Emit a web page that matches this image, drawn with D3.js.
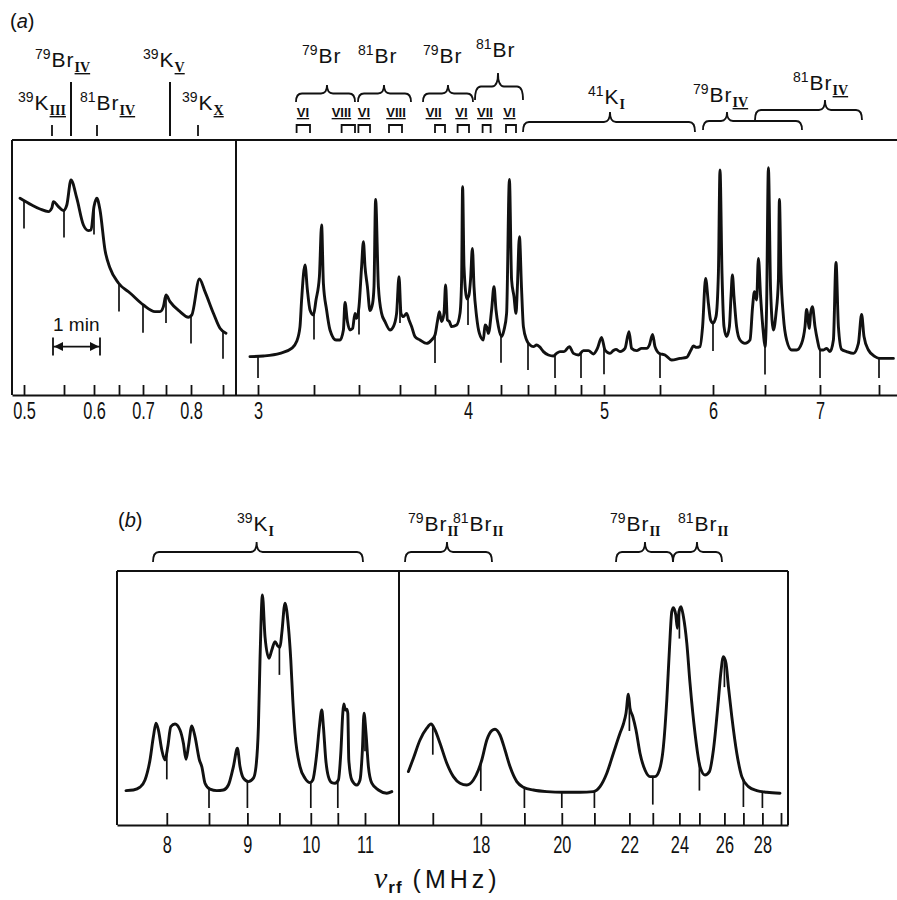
<!DOCTYPE html>
<html><head><meta charset="utf-8">
<script src="https://cdn.jsdelivr.net/npm/d3@7"></script>
<style>
body{margin:0;background:#fff;}
svg{display:block;}
text{font-family:"Liberation Sans",Arial,Helvetica,sans-serif;fill:#111;}
</style></head><body>
<svg id="chart" width="897" height="900"></svg>
<script>
// ---------- DATA (x: chart-paper position in mm, y: recorder signal in mm) ----------
// Panel (a), low-frequency part (0.5-0.85 MHz)
const traceALeft = [[4,98.4],[9.9,95],[14,93],[18.2,91.7],[19.9,93.5],[20.7,96.7],[23.2,94.2],[25.7,92.2],[27.4,95],[29.5,107.5],[32.4,98.4],[35.7,85],[38.2,82.2],[39.5,82.5],[41,94.2],[42.4,98.4],[44,92.5],[46.5,72.5],[49,63.5],[53.2,56],[59,51],[65.7,45],[71.5,41.7],[74,41.7],[75.7,44.2],[77,50],[79,46.7],[84,41.7],[88.2,38.9],[89.9,40],[93.7,58],[96.5,51.7],[100.7,40.9],[104,33.4],[107,30.9]];
// Panel (a), 3-7.5 MHz part
const traceARight = [[119,19.2],[125.7,19.5],[134,20.8],[139.8,23.3],[142.3,26.7],[144,34.2],[144.8,47.5],[146.5,65],[147.7,52.5],[149,42.5],[150.7,40],[152,47.5],[153.7,59.2],[154.8,85],[155.7,55.8],[157.3,42.5],[159,32.5],[162,27.5],[164,27.5],[165.7,32.5],[166.5,46.3],[167.7,36.7],[169,32.5],[170.3,33.3],[171.5,40.8],[172.3,38.3],[173.5,44.2],[174.8,64.2],[175.7,76.7],[176.5,64.2],[177.7,54.2],[179,42.2],[180.3,45.8],[181,54.2],[181.8,97.8],[183.2,54.2],[184.8,40.8],[186.5,36.7],[189,32.5],[190.7,34.2],[192.3,40.8],[193.5,59.2],[194.5,40.8],[195.7,39.2],[197.3,40.8],[198.5,37.5],[199.8,34.2],[201.5,29.2],[204,27.5],[207.3,25.8],[209.8,27.5],[211.5,30],[212.7,36.7],[213.7,41.7],[214.8,36.7],[216,40.8],[216.8,55],[217.7,37.5],[218.7,36.7],[219.8,34.2],[222.3,35],[224,40.8],[224.8,57.5],[225.3,104.2],[226,64.2],[227.5,48],[228.5,50],[229.3,58],[230.2,73.3],[231,54.2],[232.3,39.2],[233.7,30.8],[235.7,27.5],[236.5,35],[237.3,34.2],[238.2,30.8],[239.8,42.5],[241,54.2],[242,42.5],[243.2,34.2],[244.8,29.2],[246,32.5],[247.3,40.8],[248.7,107.8],[249.8,57.5],[251,49.2],[252,40.8],[252.7,54.2],[253.7,79.2],[254.8,52.5],[255.7,34.2],[257.3,27.5],[259,25],[260.7,24.2],[262.3,25],[263.7,24.2],[265.7,21.7],[268.2,20],[270.7,19.5],[272.3,20.8],[274,21.7],[276,21.7],[278.7,24.2],[280.7,20.8],[283.2,20],[285.7,22.2],[288.2,22.2],[290.7,20.5],[292.7,23.3],[294.8,28.8],[296.5,22.5],[299,20.8],[300.7,22.2],[302,22.8],[304,21.7],[306.5,23.3],[308.5,31.7],[309.8,23.3],[312.3,22.2],[314.8,23.3],[317.3,23.3],[318.7,25],[320.3,30.3],[321.5,24.2],[323.7,20.8],[326.5,20],[329.8,17.5],[334,18.3],[337.3,18.8],[339.5,22.5],[340.7,24.5],[342.3,23.8],[344,24.2],[345.3,34.2],[346.8,58.3],[348.2,45.8],[349.3,37.5],[350.5,36],[352,39.2],[353.2,60.8],[354,112.5],[355,60.8],[356,34.2],[357.3,29.2],[358.7,34.2],[359.5,49.2],[360.2,60],[361,49.2],[362.3,34.2],[364,27.5],[366.5,25.8],[369,27.5],[370.3,44.2],[371.2,51.7],[372.3,47.5],[373.2,68.3],[374.3,49.2],[375.7,30.8],[376.5,24.2],[377.3,44.2],[378.2,113.7],[379.3,52.5],[380.7,32.5],[382,40.8],[383.2,57.5],[383.7,97.8],[384.5,60.8],[385.7,39.2],[387.3,27.5],[389.8,22.5],[392.3,22.5],[394.8,25.8],[396.5,34.2],[397.3,42.8],[398.7,33.3],[399.3,40.8],[400.2,44.2],[401.5,34.2],[402.7,27.5],[404,22.5],[405.7,22.5],[407.3,23.3],[409,21.7],[410.7,27.5],[412,66.3],[413.2,34.2],[414.8,22.8],[417.3,21.7],[420.7,20.8],[423.2,25.8],[424.8,40.3],[426,29.2],[428.2,22.5],[431.5,19.2],[434,18.3],[440.7,18.3]];
// Panel (b), 7.5-11.5 MHz part
const traceBLeft = [[4.5,17.2],[8.2,17.5],[11.5,18.9],[14,22.5],[16.5,32.5],[18.2,44.2],[19.5,50.9],[20.7,47.5],[22.4,37.5],[24,32.5],[25.4,39.2],[26.9,49.2],[29,50.5],[31.5,47.5],[33.2,40.9],[34.5,32.9],[35.7,39.2],[37.4,49.5],[39,44.2],[41.2,32.5],[42.4,29.2],[44,20.9],[46.5,17.9],[49.9,17.2],[53.2,17.5],[55.7,20],[58.2,29.2],[60.2,38.4],[61.5,29.2],[63.2,23.4],[65.7,21.7],[68.2,23.4],[69.5,29.2],[70.7,49.2],[71.5,82.5],[72.7,115],[74,94.2],[76,83.4],[77.4,87.5],[79,91.7],[80.4,89.5],[81.5,88.9],[82.4,95.9],[84,110.9],[85.7,99.2],[86.9,82.5],[87.9,62.5],[89,45.9],[91.5,29.2],[94,23.4],[96.5,21.2],[97.9,22.5],[99.9,35.9],[101.2,49.2],[102.4,57.5],[103.2,49.2],[104.4,32.5],[105.7,24.2],[107.4,21.2],[109,20.9],[110.7,22.5],[111.9,35.9],[112.9,55.9],[113.4,60.5],[114.2,57.5],[114.9,57.9],[115.4,55.9],[115.9,32.5],[117.4,22.5],[119.9,20],[121.5,22.5],[122.7,37.5],[123.5,55.9],[124.5,45.9],[125.7,29.2],[127.4,20.9],[130.7,17.5],[134.9,15.9],[137.4,16.7]];
// Panel (b), 16-29 MHz part
const traceBRight = [[145.7,26.7],[148.2,33.4],[151.5,42.5],[154.9,48.4],[157,50.5],[159,47.5],[161.5,40.9],[164.9,30.9],[168.2,24.2],[171.5,20.9],[174.9,20],[178.2,22.5],[180.7,27.5],[182.4,32.5],[184.9,42.5],[187.4,47.2],[189,47.9],[191.5,45],[194,37.5],[196.5,29.2],[199.9,21.7],[203.2,18.9],[208.2,17.5],[214.9,16.7],[223.2,16.4],[231.5,16.4],[238.2,16.7],[241.5,19.2],[244.9,25.9],[248.2,35.9],[251.5,45.9],[253.2,50.5],[254.5,55.9],[255.7,65.4],[256.5,58.4],[257.9,54.2],[259.5,47.5],[261.5,35.9],[264,27.5],[266.5,24.2],[269,24.2],[271.2,27.5],[273.2,39.2],[274.9,62.5],[276.2,87.5],[277.4,106.7],[278.2,108.7],[279.4,105],[280.2,98.4],[281,106.7],[282,109.2],[283.2,104.2],[284.9,90.9],[286.5,70.9],[289,45.9],[291.5,29.2],[294,25],[296.2,26.7],[298.2,37.5],[300.7,62.5],[301.9,75.9],[303.2,84.2],[304.5,80.9],[305.7,69.2],[307.4,54.2],[309.9,35.9],[312.4,24.2],[315.7,19.2],[319.9,17.2],[324.9,16.4],[331.5,15.9]];

// Frequency markers (chart position in mm, frequency in MHz, printed label)
const markA_mm = [6,26,41,53.5,65.5,77,89.5,105.5,123,151,173.5,194,211.5,228,244.5,258,271.5,284.5,296,324,350.5,376.5,404,433.5];
const markA_freq = [0.5,0.55,0.6,0.65,0.7,0.75,0.8,0.85,3.0,3.2,3.4,3.6,3.8,4.0,4.2,4.4,4.6,4.8,5.0,5.5,6.0,6.5,7.0,7.5];
const markA_label = ["0.5","","0.6","","0.7","","0.8","","3","","","","","4","","","","","5","","6","","7",""];
const markB_mm = [24.9,46,65.2,81.2,96.9,110.4,124,157.9,181.9,203.7,222.4,238.7,256.2,267.9,281.2,291.2,303.7,313.2,322.7,332];
const markB_freq = [8,8.5,9,9.5,10,10.5,11,17,18,19,20,21,22,23,24,25,26,27,28,29];
const markB_label = ["8","","9","","10","","11","","18","","20","","22","","24","","26","","28",""];

// Line assignments, panel (a)
const labelsA = [
  {iso:"79",el:"Br",sub:"IV",x:11.5,tier:"hi"},
  {iso:"39",el:"K",sub:"V",x:65.5,tier:"hi"},
  {iso:"39",el:"K",sub:"III",x:3,tier:"lo"},
  {iso:"81",el:"Br",sub:"IV",x:34,tier:"lo"},
  {iso:"39",el:"K",sub:"X",x:85,tier:"lo"},
  {iso:"79",el:"Br",sub:"",x:145,tier:"br"},
  {iso:"81",el:"Br",sub:"",x:173,tier:"br"},
  {iso:"79",el:"Br",sub:"",x:205.5,tier:"br"},
  {iso:"81",el:"Br",sub:"",x:232,tier:"br2"},
  {iso:"41",el:"K",sub:"I",x:288,tier:"k41"},
  {iso:"79",el:"Br",sub:"IV",x:340.5,tier:"b79"},
  {iso:"81",el:"Br",sub:"IV",x:390.5,tier:"b81"}
];
const longLinesA = [29.5,79];
const shortLinesA = [20,42.5,93];
const bracesA = [
  {x1:142,x2:171.5,xm:157.5,tier:"br"},
  {x1:173,x2:199.5,xm:186,tier:"br"},
  {x1:205.5,x2:230.5,xm:218,tier:"br"},
  {x1:231.5,x2:255.5,xm:243,tier:"br2"},
  {x1:255.5,x2:341.5,xm:299,tier:"k41"},
  {x1:345.5,x2:395,xm:357.5,tier:"b79"},
  {x1:371.5,x2:425,xm:406.5,tier:"b81"}
];
const numeralsA = ["VI","VIII","VI","VIII","VII","VI","VII","VI"];
const numeralX = [145.5,164.7,176,192,210.8,224.7,236.5,248.7];
const bracketsA = [[142.3,149],[164.8,171.5],[173.2,179],[188.5,195],[211.5,216.5],[222.8,228.5],[235.3,239.3],[247,252]];
// Line assignments, panel (b)
const labelsB = [
  {iso:"39",el:"K",sub:"I",x:60},
  {iso:"79",el:"Br",sub:"II",x:145.5},
  {iso:"81",el:"Br",sub:"II",x:168},
  {iso:"79",el:"Br",sub:"II",x:246.5},
  {iso:"81",el:"Br",sub:"II",x:280.5}
];
const bracesB = [
  {x1:18,x2:123,xm:69.8},
  {x1:144,x2:187.5,xm:165},
  {x1:249.5,x2:278,xm:264},
  {x1:278,x2:302.5,xm:290}
];
const chartSpeed = 23.5;   // mm per minute (time bar)
const timeBarStart = 20.5; // mm

// ---------- DRAWING ----------
const svg = d3.select("#chart");
const ink = "#111";

const xA = d3.scaleLinear().domain([0, 442.5]).range([12, 897]);
const yA = d3.scaleLinear().domain([0, 127.5]).range([395, 140]);
const xB = d3.scaleLinear().domain([0, 335.5]).range([117, 788]);
const yB = d3.scaleLinear().domain([0, 127]).range([825, 571]);

function yAt(trace, xv){
  for(let i=0;i<trace.length-1;i++){
    const a=trace[i], b=trace[i+1];
    if(xv>=a[0] && xv<=b[0]){ const t=(xv-a[0])/(b[0]-a[0]); return a[1]+t*(b[1]-a[1]); }
  }
  return null;
}

function drawPanel(x, y, traces, marks, labels, tickLen, pad, dividerMm, closeRight){
  const g = svg.append("g");
  const [x0,x1] = x.domain();
  const fr = g.append("g").attr("stroke", ink).attr("stroke-width", 2).attr("fill","none");
  fr.append("line").attr("x1",x(x0)).attr("x2",x(x1)).attr("y1",y.range()[1]).attr("y2",y.range()[1]);
  fr.append("line").attr("x1",x(x0)).attr("x2",x(x0)).attr("y1",y.range()[1]).attr("y2",y.range()[0]);
  fr.append("line").attr("x1",x(dividerMm)).attr("x2",x(dividerMm)).attr("y1",y.range()[1]).attr("y2",y.range()[0]);
  if(closeRight) fr.append("line").attr("x1",x(x1)).attr("x2",x(x1)).attr("y1",y.range()[1]).attr("y2",y.range()[0]);
  const ax = d3.axisBottom(x).tickValues(marks).tickSizeInner(-tickLen).tickSizeOuter(0).tickPadding(pad)
    .tickFormat((d,i)=>labels[i]);
  const ag = g.append("g").attr("transform",`translate(0,${y.range()[0]})`).call(ax);
  ag.select(".domain").attr("stroke",ink).attr("stroke-width",2.2);
  ag.selectAll(".tick line").attr("stroke",ink).attr("stroke-width",1.8);
  ag.selectAll(".tick text").attr("fill",ink).style("font-size","24px")
    .style("font-family","'Liberation Sans',Arial,sans-serif")
    .attr("transform","scale(0.68,1)");
  const line = d3.line().x(d=>x(d[0])).y(d=>y(d[1])).curve(d3.curveMonotoneX);
  traces.forEach(tr=>{
    g.append("path").datum(tr).attr("d",line).attr("fill","none").attr("stroke",ink)
      .attr("stroke-width",2.9).attr("stroke-linejoin","round").attr("stroke-linecap","round");
  });
  marks.forEach(m=>{
    let v=null;
    for(const tr of traces){ const r=yAt(tr,m); if(r!==null){v=r;break;} }
    if(v===null) return;
    const end = Math.max(v-14, 8.5);
    g.append("line").attr("x1",x(m)).attr("x2",x(m)).attr("y1",y(v)).attr("y2",y(end))
      .attr("stroke",ink).attr("stroke-width",1.7);
  });
  return g;
}

drawPanel(xA, yA, [traceALeft, traceARight], markA_mm, markA_label, 10, 7, 112, false);
drawPanel(xB, yB, [traceBLeft, traceBRight], markB_mm, markB_label, 12, 11, 141, true);

function isoLabel(xpx, ybase, d, anchor){
  const t = svg.append("text").attr("x",xpx).attr("y",ybase).attr("text-anchor",anchor||"start");
  t.append("tspan").attr("font-size",14).attr("dy",-8).text(d.iso);
  t.append("tspan").attr("font-size",21).attr("dy",8).attr("dx",1).attr("letter-spacing",1).text(d.el);
  if(d.sub){
    const s = t.append("tspan").attr("font-family","'Liberation Serif','Times New Roman',serif")
      .attr("font-weight","bold").attr("font-size",14).attr("dy",5).attr("dx",0).text(d.sub);
    if(d.sub!=="I" && d.sub!=="II") s.attr("text-decoration","underline");
  }
  return t;
}
function bracePath(x1,x2,xm,yTip,yEnd){
  const ym=(yTip+yEnd)/2, r=6;
  return `M${x1},${yEnd} Q${x1},${ym} ${x1+r},${ym} L${xm-r},${ym} Q${xm},${ym} ${xm},${yTip} Q${xm},${ym} ${xm+r},${ym} L${x2-r},${ym} Q${x2},${ym} ${x2},${yEnd}`;
}

// ---- panel (a) annotations
svg.append("text").attr("x",10).attr("y",28).attr("font-size",20)
  .call(t=>{t.append("tspan").text("(");t.append("tspan").attr("font-style","italic").text("a");t.append("tspan").text(")");});

const tierBase = {hi:67, lo:110, br:63, br2:57, k41:104, b79:102, b81:90};
const braceY = {br:[85,102], br2:[73,100], k41:[112,132], b79:[112,130], b81:[100,120]};
labelsA.forEach(d=> isoLabel(xA(d.x), tierBase[d.tier], d));
longLinesA.forEach(m=> svg.append("line").attr("x1",xA(m)).attr("x2",xA(m)).attr("y1",82).attr("y2",136).attr("stroke",ink).attr("stroke-width",2));
shortLinesA.forEach(m=> svg.append("line").attr("x1",xA(m)).attr("x2",xA(m)).attr("y1",125).attr("y2",136).attr("stroke",ink).attr("stroke-width",1.8));
bracesA.forEach(b=>{
  const [yt,ye]=braceY[b.tier];
  svg.append("path").attr("d",bracePath(xA(b.x1),xA(b.x2),xA(b.xm),yt,ye)).attr("fill","none").attr("stroke",ink).attr("stroke-width",1.8);
});
numeralsA.forEach((n,i)=>{
  svg.append("text").attr("x",xA(numeralX[i])).attr("y",117).attr("text-anchor","middle")
    .attr("font-family","'Liberation Serif','Times New Roman',serif").attr("font-weight","bold")
    .attr("font-size",13).attr("text-decoration","underline").text(n);
});
bracketsA.forEach(([a,b])=>{
  svg.append("path").attr("d",`M${xA(a)},133 L${xA(a)},125 L${xA(b)},125 L${xA(b)},133`)
    .attr("fill","none").attr("stroke",ink).attr("stroke-width",1.8);
});

// time bar (1 min)
{
  const xs = xA(timeBarStart), xe = xA(timeBarStart + chartSpeed), yb = yA(24.2);
  svg.append("text").attr("x",xs).attr("y",yb-16).attr("font-size",19).text("1 min");
  const g = svg.append("g").attr("stroke",ink).attr("stroke-width",1.8);
  g.append("line").attr("x1",xs).attr("x2",xe).attr("y1",yb).attr("y2",yb);
  g.append("line").attr("x1",xs).attr("x2",xs).attr("y1",yb-9).attr("y2",yb+9);
  g.append("line").attr("x1",xe).attr("x2",xe).attr("y1",yb-9).attr("y2",yb+9);
  svg.append("path").attr("d",`M${xs+1},${yb} L${xs+10},${yb-4.5} L${xs+10},${yb+4.5} Z M${xe-1},${yb} L${xe-10},${yb-4.5} L${xe-10},${yb+4.5} Z`).attr("fill",ink);
}

// ---- panel (b) annotations
svg.append("text").attr("x",118).attr("y",527).attr("font-size",20)
  .call(t=>{t.append("tspan").text("(");t.append("tspan").attr("font-style","italic").text("b");t.append("tspan").text(")");});
labelsB.forEach(d=> isoLabel(xB(d.x), 531, d));
bracesB.forEach(b=>{
  svg.append("path").attr("d",bracePath(xB(b.x1),xB(b.x2),xB(b.xm),542,562)).attr("fill","none").attr("stroke",ink).attr("stroke-width",1.8);
});

// axis title
{
  const t = svg.append("text").attr("x",374).attr("y",888);
  t.append("tspan").attr("font-family","'Liberation Serif','Times New Roman',serif").attr("font-style","italic").attr("font-size",30).text("ν");
  t.append("tspan").attr("font-size",17).attr("font-weight","bold").attr("dy",5).attr("dx",1).attr("letter-spacing",1).text("rf");
  t.append("tspan").attr("font-size",25).attr("dy",-5).attr("dx",10).attr("letter-spacing",4).text("(MHz)");
}
</script>
</body></html>
